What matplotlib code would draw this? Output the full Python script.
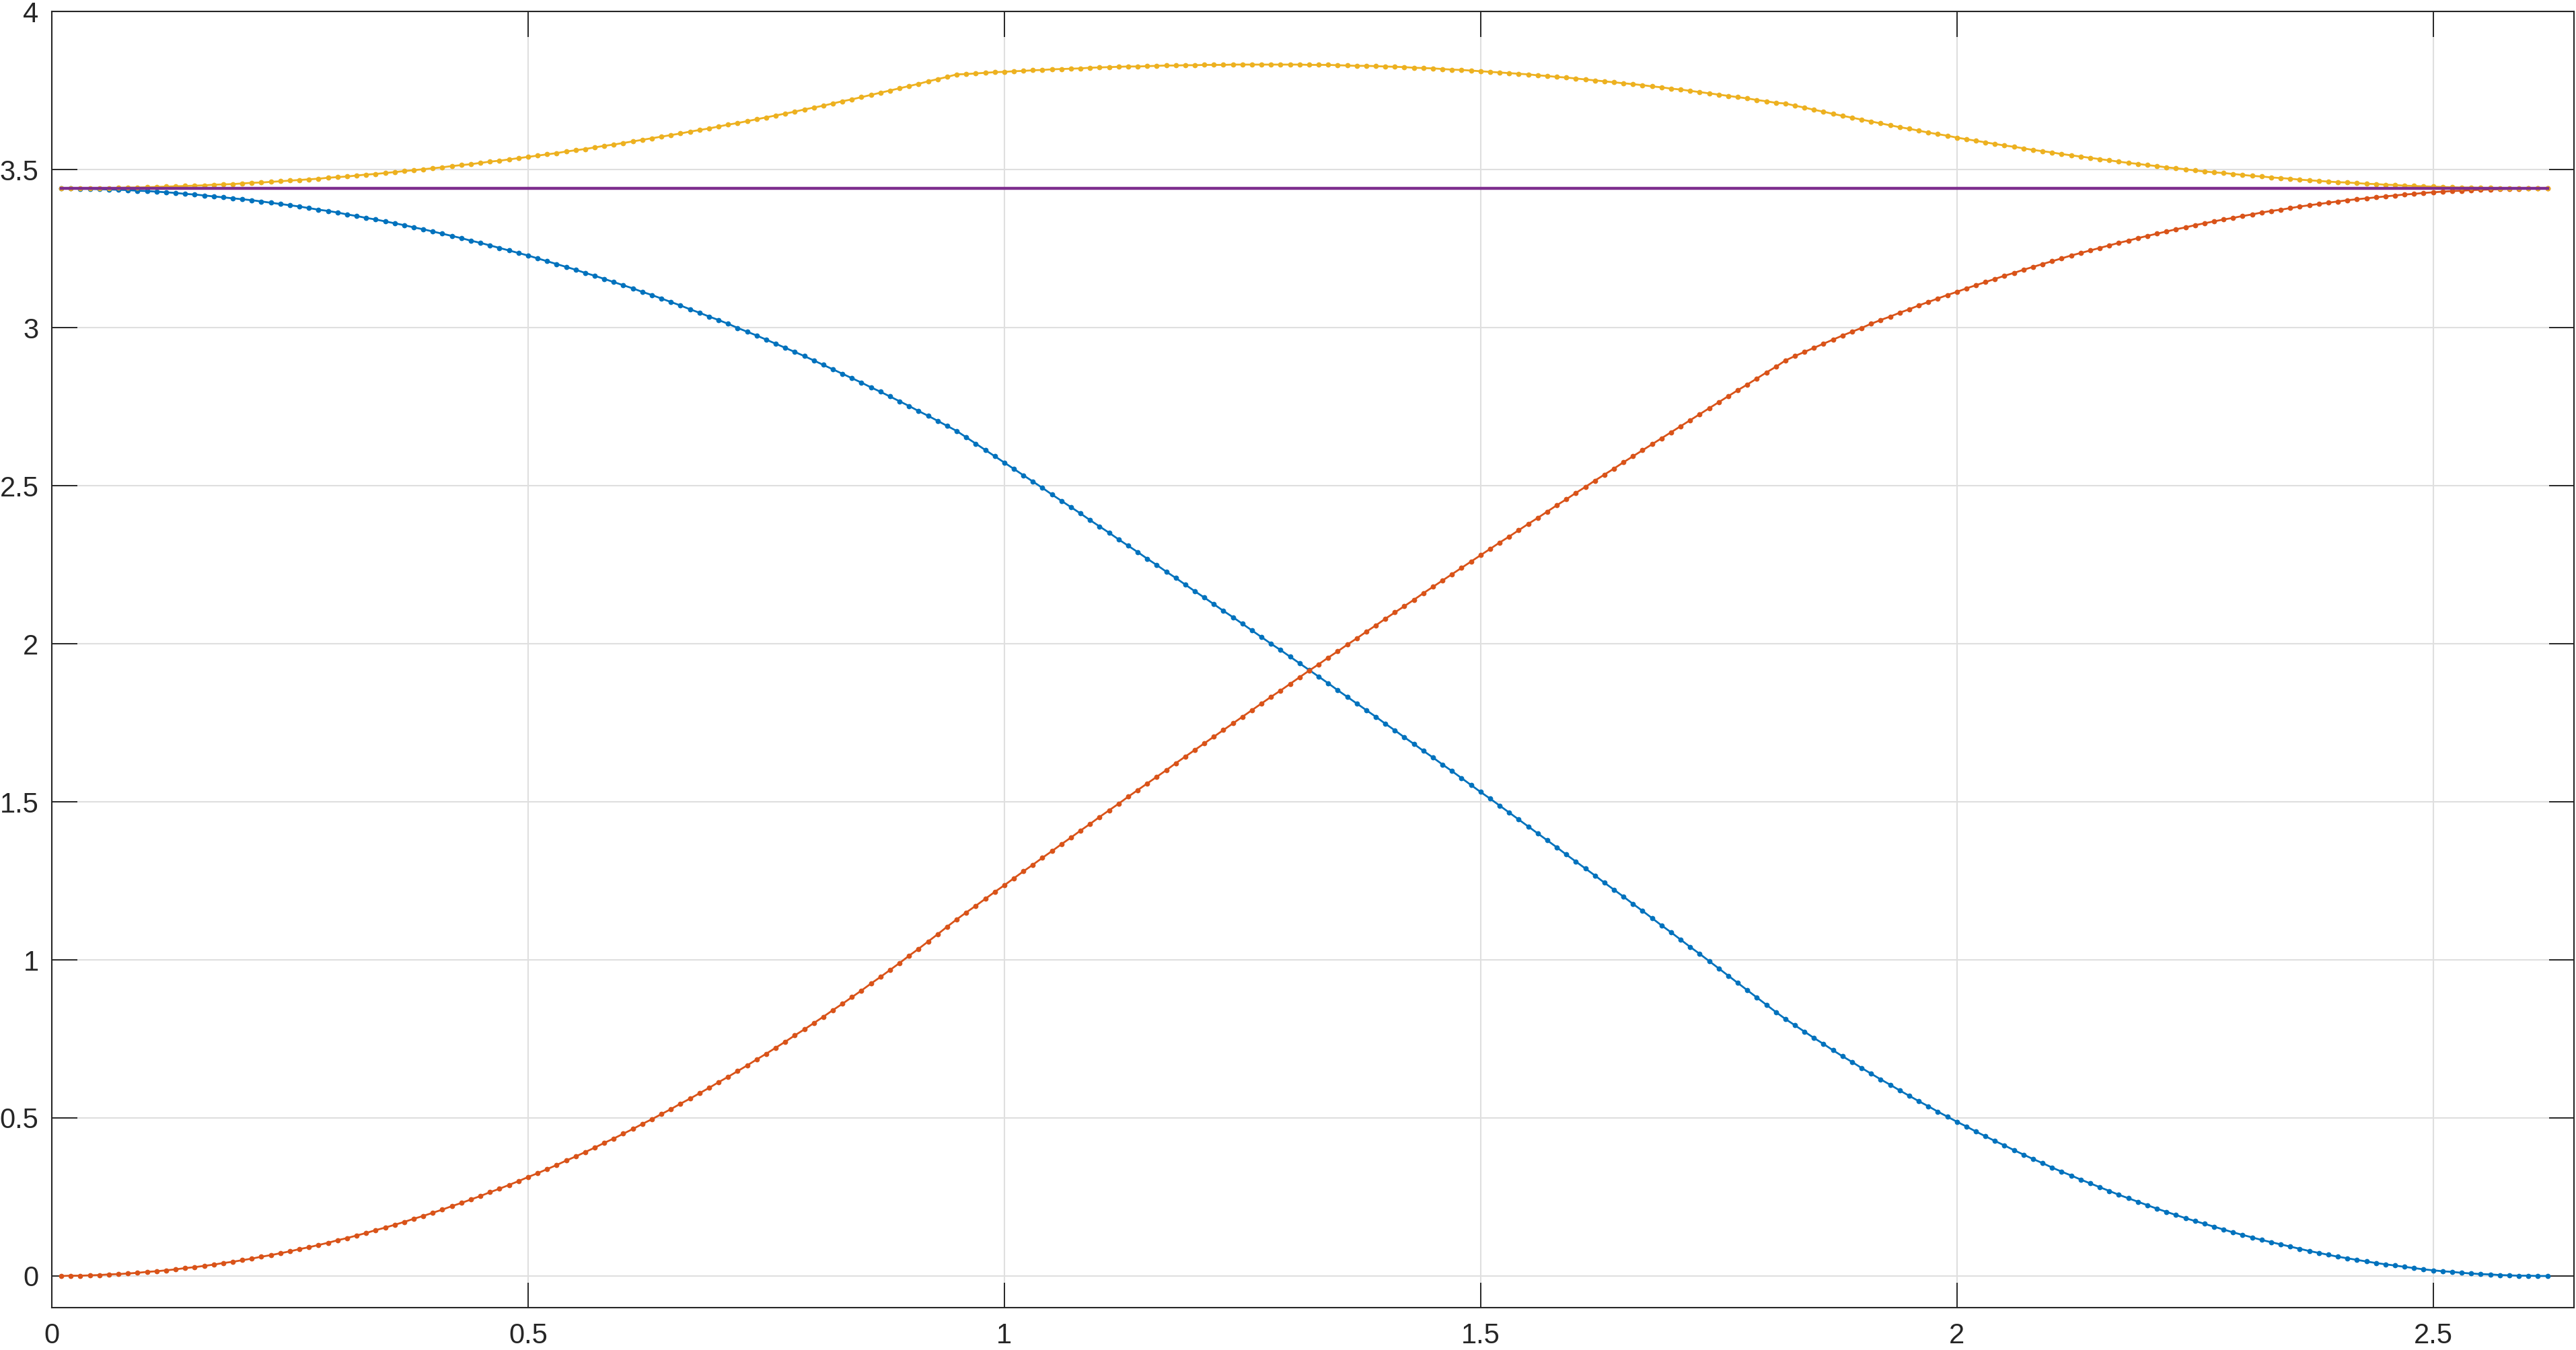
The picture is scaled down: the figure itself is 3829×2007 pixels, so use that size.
import numpy as np
import matplotlib
matplotlib.use("Agg")
import matplotlib.pyplot as plt
from matplotlib.ticker import FuncFormatter, MultipleLocator

plt.rcParams['font.family'] = ['Liberation Sans', 'DejaVu Sans']

# sample times: 0.01 ... 2.62, step 0.01 (262 samples)
t = np.arange(1, 263) / 100.0

# blue series
blue = [
    3.440, 3.440, 3.439, 3.439, 3.438, 3.437, 3.436, 3.435, 3.433, 3.432,
    3.430, 3.428, 3.426, 3.423, 3.421, 3.418, 3.415, 3.412, 3.409, 3.406,
    3.403, 3.399, 3.395, 3.391, 3.387, 3.383, 3.378, 3.373, 3.369, 3.364,
    3.358, 3.353, 3.347, 3.342, 3.336, 3.330, 3.324, 3.317, 3.311, 3.304,
    3.297, 3.290, 3.283, 3.275, 3.268, 3.260, 3.252, 3.244, 3.236, 3.228,
    3.219, 3.210, 3.201, 3.192, 3.183, 3.173, 3.164, 3.154, 3.144, 3.134,
    3.124, 3.113, 3.103, 3.092, 3.081, 3.070, 3.058, 3.047, 3.035, 3.024,
    3.012, 2.999, 2.987, 2.975, 2.962, 2.949, 2.936, 2.923, 2.910, 2.896,
    2.882, 2.868, 2.854, 2.840, 2.826, 2.811, 2.797, 2.782, 2.767, 2.752,
    2.736, 2.721, 2.705, 2.689, 2.673,
    2.653, 2.633, 2.613, 2.593, 2.573, 2.553, 2.533, 2.513, 2.493, 2.472,
    2.452, 2.432, 2.412, 2.391, 2.371, 2.351, 2.330, 2.310, 2.290, 2.269,
    2.249, 2.228, 2.208, 2.187, 2.166, 2.146, 2.125, 2.104, 2.084, 2.063,
    2.042, 2.021, 2.000, 1.980, 1.959, 1.938, 1.917, 1.896, 1.875, 1.853,
    1.832, 1.811, 1.790, 1.769, 1.747, 1.726, 1.704, 1.683, 1.661, 1.640,
    1.618, 1.597, 1.575, 1.553, 1.531, 1.510, 1.488, 1.466, 1.444, 1.422,
    1.400, 1.378, 1.356, 1.333, 1.311, 1.289, 1.267, 1.244, 1.222, 1.200,
    1.177, 1.155, 1.132, 1.109, 1.087, 1.064, 1.041, 1.019, 0.996, 0.973,
    0.950, 0.927, 0.904, 0.881, 0.858, 0.835,
    0.813, 0.793, 0.773, 0.753, 0.734, 0.714, 0.695, 0.677, 0.658, 0.640,
    0.622, 0.605, 0.587, 0.570, 0.553, 0.537, 0.520, 0.504, 0.488, 0.473,
    0.457, 0.442, 0.427, 0.413, 0.398, 0.384, 0.370, 0.357, 0.343, 0.330,
    0.318, 0.305, 0.293, 0.281, 0.269, 0.257, 0.246, 0.235, 0.224, 0.213,
    0.203, 0.193, 0.183, 0.174, 0.165, 0.156, 0.147, 0.138, 0.130, 0.122,
    0.114, 0.107, 0.100, 0.093, 0.086, 0.079, 0.073, 0.067, 0.061, 0.056,
    0.051, 0.046, 0.041, 0.037, 0.033, 0.029, 0.025, 0.021, 0.018, 0.015,
    0.013, 0.010, 0.008, 0.006, 0.005, 0.003, 0.002, 0.001, 0.001, 0.000,
    0.000,
]

# red series
red = [
    0.000, 0.001, 0.001, 0.002, 0.003, 0.005, 0.006, 0.008, 0.010, 0.013,
    0.015, 0.018, 0.021, 0.025, 0.028, 0.032, 0.036, 0.041, 0.045, 0.050,
    0.055, 0.061, 0.066, 0.072, 0.078, 0.085, 0.091, 0.098, 0.105, 0.113,
    0.120, 0.128, 0.136, 0.145, 0.153, 0.162, 0.171, 0.181, 0.190, 0.200,
    0.210, 0.221, 0.231, 0.242, 0.253, 0.265, 0.276, 0.288, 0.300, 0.313,
    0.325, 0.338, 0.351, 0.365, 0.378, 0.392, 0.406, 0.421, 0.435, 0.450,
    0.465, 0.481, 0.496, 0.512, 0.528, 0.545, 0.561, 0.578, 0.595, 0.613,
    0.630, 0.648, 0.666, 0.685, 0.703, 0.722, 0.741, 0.761, 0.780, 0.800,
    0.820, 0.841, 0.861, 0.882, 0.903, 0.925, 0.946, 0.968, 0.990, 1.013,
    1.035, 1.058, 1.081, 1.105, 1.128,
    1.150, 1.171, 1.193, 1.215, 1.236, 1.258, 1.280, 1.301, 1.323, 1.344,
    1.366, 1.387, 1.409, 1.430, 1.452, 1.473, 1.494, 1.516, 1.537, 1.558,
    1.579, 1.600, 1.622, 1.643, 1.664, 1.685, 1.706, 1.727, 1.748, 1.769,
    1.790, 1.811, 1.832, 1.852, 1.873, 1.894, 1.915, 1.935, 1.956, 1.976,
    1.997, 2.017, 2.038, 2.058, 2.079, 2.099, 2.119, 2.139, 2.160, 2.180,
    2.200, 2.220, 2.240, 2.260, 2.280, 2.300, 2.320, 2.339, 2.359, 2.379,
    2.398, 2.418, 2.438, 2.457, 2.477, 2.496, 2.516, 2.535, 2.554, 2.574,
    2.593, 2.612, 2.631, 2.650, 2.669, 2.688, 2.707, 2.726, 2.745, 2.764,
    2.783, 2.802, 2.820, 2.839, 2.858, 2.876,
    2.896, 2.910, 2.923, 2.936, 2.949, 2.962, 2.975, 2.987, 2.999, 3.012,
    3.024, 3.035, 3.047, 3.058, 3.070, 3.081, 3.092, 3.103, 3.113, 3.124,
    3.134, 3.144, 3.154, 3.164, 3.173, 3.183, 3.192, 3.201, 3.210, 3.219,
    3.228, 3.236, 3.244, 3.252, 3.260, 3.268, 3.275, 3.283, 3.290, 3.297,
    3.304, 3.311, 3.317, 3.324, 3.330, 3.336, 3.342, 3.347, 3.353, 3.358,
    3.364, 3.369, 3.373, 3.378, 3.383, 3.387, 3.391, 3.395, 3.399, 3.403,
    3.406, 3.409, 3.412, 3.415, 3.418, 3.421, 3.423, 3.426, 3.428, 3.430,
    3.432, 3.433, 3.435, 3.436, 3.437, 3.438, 3.439, 3.439, 3.440, 3.440,
    3.440,
]

# yellow series
yellow = [
    3.440, 3.440, 3.440, 3.441, 3.441, 3.441, 3.442, 3.443, 3.443, 3.444,
    3.445, 3.446, 3.447, 3.448, 3.449, 3.450, 3.452, 3.453, 3.454, 3.456,
    3.458, 3.459, 3.461, 3.463, 3.465, 3.467, 3.469, 3.471, 3.474, 3.476,
    3.478, 3.481, 3.484, 3.486, 3.489, 3.492, 3.495, 3.498, 3.501, 3.504,
    3.507, 3.511, 3.514, 3.517, 3.521, 3.525, 3.528, 3.532, 3.536, 3.540,
    3.544, 3.548, 3.552, 3.557, 3.561, 3.565, 3.570, 3.575, 3.579, 3.584,
    3.589, 3.594, 3.599, 3.604, 3.609, 3.614, 3.620, 3.625, 3.630, 3.636,
    3.642, 3.647, 3.653, 3.659, 3.665, 3.671, 3.677, 3.683, 3.690, 3.696,
    3.702, 3.709, 3.716, 3.722, 3.729, 3.736, 3.743, 3.750, 3.757, 3.764,
    3.771, 3.779, 3.786, 3.793, 3.801,
    3.802, 3.804, 3.806, 3.808, 3.809, 3.811, 3.812, 3.814, 3.815, 3.817,
    3.818, 3.819, 3.820, 3.822, 3.823, 3.824, 3.825, 3.826, 3.826, 3.827,
    3.828, 3.829, 3.829, 3.830, 3.830, 3.831, 3.831, 3.831, 3.832, 3.832,
    3.832, 3.832, 3.832, 3.832, 3.832, 3.832, 3.831, 3.831, 3.831, 3.830,
    3.829, 3.828, 3.828, 3.827, 3.826, 3.825, 3.824, 3.822, 3.821, 3.820,
    3.818, 3.816, 3.815, 3.813, 3.811, 3.809, 3.807, 3.805, 3.803, 3.801,
    3.798, 3.796, 3.793, 3.791, 3.788, 3.785, 3.782, 3.779, 3.776, 3.773,
    3.770, 3.767, 3.763, 3.760, 3.756, 3.753, 3.749, 3.745, 3.741, 3.737,
    3.733, 3.729, 3.725, 3.720, 3.716, 3.711,
    3.709, 3.702, 3.696, 3.689, 3.683, 3.676, 3.670, 3.664, 3.658, 3.652,
    3.646, 3.640, 3.634, 3.629, 3.623, 3.617, 3.612, 3.607, 3.601, 3.596,
    3.591, 3.586, 3.581, 3.576, 3.572, 3.567, 3.562, 3.558, 3.554, 3.549,
    3.545, 3.541, 3.537, 3.533, 3.529, 3.525, 3.521, 3.518, 3.514, 3.511,
    3.507, 3.504, 3.501, 3.497, 3.494, 3.491, 3.489, 3.486, 3.483, 3.480,
    3.478, 3.475, 3.473, 3.471, 3.468, 3.466, 3.464, 3.462, 3.460, 3.459,
    3.457, 3.455, 3.454, 3.452, 3.451, 3.449, 3.448, 3.447, 3.446, 3.445,
    3.444, 3.443, 3.443, 3.442, 3.442, 3.441, 3.441, 3.440, 3.440, 3.440,
    3.440,
]

# constant reference level (purple)
ref_level = 3.44

fig = plt.figure(figsize=(38.3, 20.07), dpi=100)
ax = fig.add_axes([0.0201, 0.0314, 0.9789, 0.9601])

ms = 5.6
ax.plot(t, blue, '-o', color='#0072BD', lw=2.0, ms=ms, mew=0)
ax.plot(t, red, '-o', color='#D95319', lw=2.0, ms=ms, mew=0)
ax.plot(t, yellow, '-o', color='#EDB120', lw=2.0, ms=ms, mew=0)
ax.plot([t[0], t[-1]], [ref_level, ref_level], '-', color='#7E2F8E', lw=3.2)

ax.set_xlim(0, 2.648)
ax.set_ylim(-0.1, 4)
ax.xaxis.set_major_locator(MultipleLocator(0.5))
ax.yaxis.set_major_locator(MultipleLocator(0.5))
fmt = FuncFormatter(lambda v, p: f"{v:g}")
ax.xaxis.set_major_formatter(fmt)
ax.yaxis.set_major_formatter(fmt)

ax.grid(True, color='#dfdfdf', lw=1.5)
ax.set_axisbelow(True)
ax.tick_params(direction='in', length=27, width=1.4, top=True, right=True,
               labelsize=30, colors='#262626')
ax.tick_params(axis='x', pad=16)
ax.tick_params(axis='y', pad=14)
for s in ax.spines.values():
    s.set_color('#262626')
    s.set_linewidth(1.5)

fig.savefig('out.png', dpi=100)
